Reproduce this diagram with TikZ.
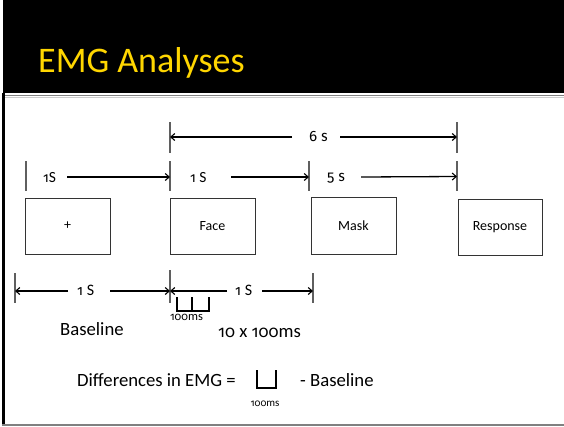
\documentclass[tikz,border=0pt]{standalone}
\usepackage{fontspec}
\setmainfont{Carlito}
\newfontfamily\osffont{Fira Sans}[Numbers=OldStyle, Scale=0.88]
\newcommand{\osn}[1]{{\osffont #1}}
\usetikzlibrary{arrows.meta}
\definecolor{titleyellow}{RGB}{255,214,0}
\definecolor{tickgray}{RGB}{95,95,95}
\definecolor{rulegray}{RGB}{128,128,128}
\definecolor{rulelight}{RGB}{205,205,205}
\begin{document}
\begin{tikzpicture}[x=1pt,y=-1pt,
  arr/.style={-{Straight Barb[length=4pt,width=7pt,line width=1.1pt]}, line width=1.3pt, black},
  tick/.style={line width=1.3pt, tickgray},
  box/.style={draw=black!80, line width=0.9pt, minimum width=85pt, minimum height=56pt, inner sep=0pt, font=\fontsize{14}{16}\selectfont},
  lbl/.style={anchor=base west, inner sep=0pt, font=\fontsize{16}{18}\selectfont},
  big/.style={anchor=base west, inner sep=0pt, font=\fontsize{18.7}{22}\selectfont},
  small/.style={anchor=center, inner sep=0pt, font=\fontsize{12.5}{14}\selectfont},
  ubr/.style={line width=1.2pt, black}]
\useasboundingbox (0,0) rectangle (564,426);
% slide frame
\fill[black] (2.5,0) rectangle (564,93);
\draw[rulegray, line width=1.8pt] (2.5,95.5) -- (564,95.5);
\draw[rulelight, line width=1pt] (2.5,97.5) -- (564,97.5);
\draw[black, line width=2.5pt] (3.3,93) -- (3.3,426);
\draw[rulegray, line width=1.5pt] (2,424.8) -- (564,424.8);
% title
\node[anchor=base west, inner sep=0pt, text=titleyellow, font=\fontsize{36}{40}\selectfont] (title) at (38,72) {EMG Analyses};
% tick coordinates
\coordinate (tA1) at (170,122); \coordinate (tA2) at (170,153);
\coordinate (tB1) at (457,122); \coordinate (tB2) at (457,153);
\coordinate (m01) at (26,161); \coordinate (m02) at (26,191);
\coordinate (m11) at (170,161); \coordinate (m12) at (170,191);
\coordinate (m21) at (309,161); \coordinate (m22) at (309,191);
\coordinate (m31) at (457,161); \coordinate (m32) at (457,191);
\coordinate (b01) at (15,273); \coordinate (b02) at (15,303);
\coordinate (b11) at (170,270); \coordinate (b12) at (170,303);
\coordinate (b21) at (313,273); \coordinate (b22) at (313,303);
\foreach \a/\b in {tA1/tA2,tB1/tB2,m01/m02,m11/m12,m21/m22,m31/m32,b01/b02,b11/b12,b21/b22}
  \draw[tick] (\a) -- (\b);
% 6 s arrow
\node[lbl, font=\fontsize{17}{19}\selectfont] (l6) at (309,141.5) {\osn{6} s};
\coordinate (a6l) at (292,137); \coordinate (a6L) at (170,137);
\coordinate (a6r) at (340,137); \coordinate (a6R) at (457,137);
\draw[arr] (a6l) -- (a6L);
\draw[arr] (a6r) -- (a6R);
% middle row
\node[lbl, font=\fontsize{15.5}{18}\selectfont] (l1) at (43,182) {\osn{1}S};
\coordinate (a1s) at (67,177); \coordinate (a1e) at (170,177);
\draw[arr] (a1s) -- (a1e);
\node[lbl, font=\fontsize{15.5}{18}\selectfont] (l2) at (190,182) {\osn{1} S};
\coordinate (a2s) at (231,177); \coordinate (a2e) at (309,177);
\draw[arr] (a2s) -- (a2e);
\node[lbl, font=\fontsize{17}{19}\selectfont] (l3) at (327,181.5) {\osn{5} s};
\coordinate (a3s) at (361,177); \coordinate (a3e) at (457,176.5);
\draw[arr] (a3s) -- (a3e);
% boxes
\node[box] (fix) at (67.5,226) {+};
\node[box] (face) at (212.5,226) {Face};
\node[box, minimum height=57pt] (mask) at (353.5,225.5) {Mask};
\node[box, minimum width=84pt] (resp) at (500,227) {Response};
% lower row
\node[lbl] (l4) at (77,295.5) {\osn{1} S};
\coordinate (c1s) at (68,291); \coordinate (c1e) at (15,291);
\coordinate (c2s) at (110,291); \coordinate (c2e) at (170,291);
\draw[arr] (c1s) -- (c1e);
\draw[arr] (c2s) -- (c2e);
\node[lbl] (l5) at (235,295.5) {\osn{1} S};
\coordinate (c3s) at (227,291); \coordinate (c3e) at (170,291);
\coordinate (c4s) at (262,291); \coordinate (c4e) at (313,291);
\draw[arr] (c3s) -- (c3e);
\draw[arr] (c4s) -- (c4e);
% small brackets
\coordinate (u1) at (177,297); \coordinate (u2) at (192,297); \coordinate (u3) at (209,297);
\draw[ubr] (u1) |- (209,311) -- (u3);
\draw[ubr] (u2) -- (192,311);
\node[small] (ms1) at (186.5,317) {\osn{100}ms};
\node[big] (base) at (60,335) {Baseline};
\node[big] (tenx) at (218,337) {\osn{10} x \osn{100}ms};
% formula
\node[big] (diff) at (77,386) {Differences in EMG =};
\coordinate (v1) at (257,370); \coordinate (v2) at (276,370);
\draw[ubr] (v1) |- (276,388) -- (v2);
\node[small, font=\fontsize{11}{13}\selectfont] (ms2) at (265,404) {\osn{100}ms};
\node[big] (minus) at (300,386) {- Baseline};
\end{tikzpicture}
\end{document}
